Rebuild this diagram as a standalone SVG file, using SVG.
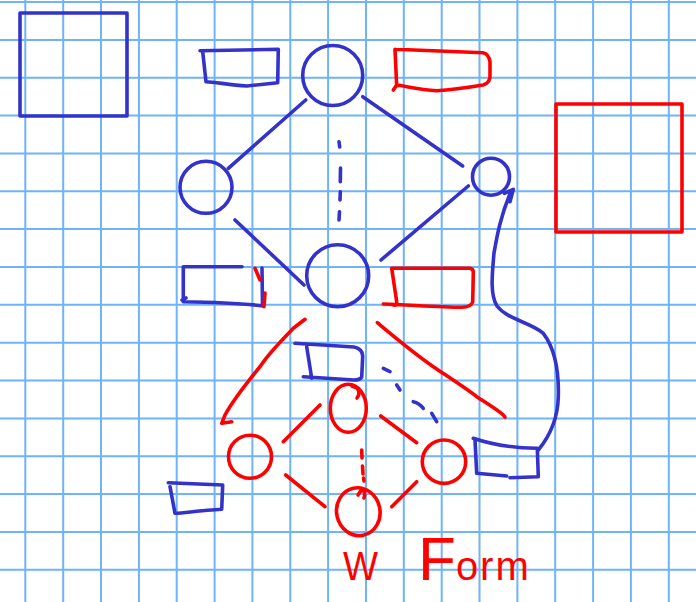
<svg xmlns="http://www.w3.org/2000/svg" width="696" height="602" viewBox="0 0 696 602">
<style>
.b{fill:none;stroke:#3333cc;stroke-width:3.6;stroke-linecap:round;stroke-linejoin:round}
.r{fill:none;stroke:#ff0000;stroke-width:3.6;stroke-linecap:round;stroke-linejoin:round}
.grid{fill:none;stroke:#6fb3f8;stroke-width:2}
.t{font-family:"Liberation Sans",Arial,sans-serif;fill:#ff0000}
</style>
<rect width="696" height="602" fill="#ffffff"/>
<path class="grid" d="M25.3 0V602M63.2 0V602M101 0V602M138.9 0V602M176.7 0V602M214.6 0V602M252.4 0V602M290.3 0V602M328.1 0V602M366 0V602M403.8 0V602M441.7 0V602M479.5 0V602M517.4 0V602M555.2 0V602M593.1 0V602M630.9 0V602M668.8 0V602M0 2H696M0 39.9H696M0 77.7H696M0 115.6H696M0 153.4H696M0 191.3H696M0 229.1H696M0 267H696M0 304.8H696M0 342.7H696M0 380.5H696M0 418.4H696M0 456.2H696M0 494.1H696M0 531.9H696M0 569.8H696"/>

<g id="square-blue"><rect class="b" x="20" y="13" width="107" height="103"/></g>
<g id="square-red"><rect class="r" x="556" y="104" width="126" height="128"/></g>

<g id="connectors">
  <path class="b" d="M305.7 100L228.3 168.3"/>
  <path class="b" d="M362.7 96.7L462.7 166"/>
  <path class="b" d="M235 220L304 285"/>
  <path class="b" d="M468.3 186L381 260"/>
  <path class="b" d="M339 141.7L339.7 147M340.5 168L340.3 181.7M340.3 191.7L340 200M339.5 211.7L339 220"/>
  <path class="b" d="M538.3 450C553 432 558 412 558.3 396.7C559 372 556 350 543.3 333.3C530 322 508 320 497 306C490 295 492 275 494 253C497 236 500 218 511 191M504.3 193.3L513.3 189.3L510 201.7"/>
  <path class="r" d="M305 319.3L293.3 328.3C280 342 268 354 260 366.7C245 385 232 402 225 415L221.7 423.3L231.7 421.7"/>
  <path class="r" d="M377.3 322.7C392 335 412 352 433.3 366.7C450 378 470 391 476.7 396.7C488 404 498 410 503.3 415L505 417.3"/>
  <path class="b" d="M383.3 368.3L390 371.7M396.7 385L400 390M413.3 401.7Q419 403 423.3 408.3M431.7 413.3L436.7 421.7"/>
  <path class="r" d="M283.3 441.7L320 405"/>
  <path class="r" d="M380.7 416L416.7 442.7"/>
  <path class="r" d="M285.7 475L325 506.7"/>
  <path class="r" d="M391.7 506.7L416.7 481.7"/>
  <path class="r" d="M361.7 450L362 458M362.5 466L363 474M363.5 478L364 481"/>
</g>

<g id="node-top"><circle class="b" cx="332.7" cy="75.5" r="30"/></g>
<g id="node-left"><circle class="b" cx="206" cy="187.3" r="26"/></g>
<g id="node-right"><circle class="b" cx="491" cy="176.7" r="18.5"/></g>
<g id="node-center"><circle class="b" cx="337.7" cy="275.7" r="31"/></g>

<g id="label-top-left"><path class="b" d="M200 50.7L278.3 49.3L277.7 82.7L246.7 86C230 85 215 82 206 81.7L202.7 51.7"/></g>
<g id="label-top-right"><path class="r" d="M395 49.3L483 52.7Q489 54 490 62L490 73.3Q491 83 483 85C465 88 450 90 436.7 90.7C420 90 405 86 396.7 85L393.3 90M395 49.3L396.7 86"/></g>
<g id="label-mid-left">
  <path class="b" d="M242 266.7L183.3 266.7L183.3 301.7M182 300L186 298M183.3 301.7C205 302 240 303 263.3 306M262 268L262.5 306"/>
  <path class="r" d="M255 268.3L260 280M265 293L264 306.7"/>
</g>
<g id="label-mid-right"><path class="r" d="M391.7 268.3L470 268.3Q473.3 269 473.3 272L472.7 302Q471 307 461.7 307.3C440 307 410 305 383.3 304M391.7 268.3L396.7 301.7Q398 306 393 305"/></g>
<g id="label-center"><path class="b" d="M295 343.3L354 347Q362.7 349 362.7 356L361.7 377Q360 380 354 380L303.3 376.7M306.7 346.7L311.7 378.3"/></g>
<g id="label-bottom-right"><path class="b" d="M473.3 438.3C490 444 515 448 536.7 448.3M475 440L476.7 473.3L506.7 476M510 477.7L538.3 476.7L537.3 448.3"/></g>
<g id="label-bottom-left"><path class="b" d="M168.3 482.7L222.7 485L221.7 509.3L211.7 510C195 511 185 513 175 513.3L170 486.7"/></g>

<g id="w-top"><ellipse class="r" cx="348.3" cy="408.3" rx="18" ry="24"/><path class="r" d="M352 386L357 388Q361 393 357 398"/></g>
<g id="w-left"><circle class="r" cx="250" cy="456.7" r="21.5"/></g>
<g id="w-right"><circle class="r" cx="444" cy="461.7" r="21.7"/></g>
<g id="w-bottom"><ellipse class="r" cx="358.3" cy="511.7" rx="21.7" ry="24" transform="rotate(-12 358.3 511.7)"/><path class="r" d="M358 495L362 489Q366 492 364 498"/></g>

<g id="title">
  <text class="t" x="343" y="580" font-size="40" textLength="35" lengthAdjust="spacingAndGlyphs">W</text>
  <text class="t" x="418" y="580"><tspan font-size="62">F</tspan><tspan font-size="40" letter-spacing="2">orm</tspan></text>
</g>
</svg>
